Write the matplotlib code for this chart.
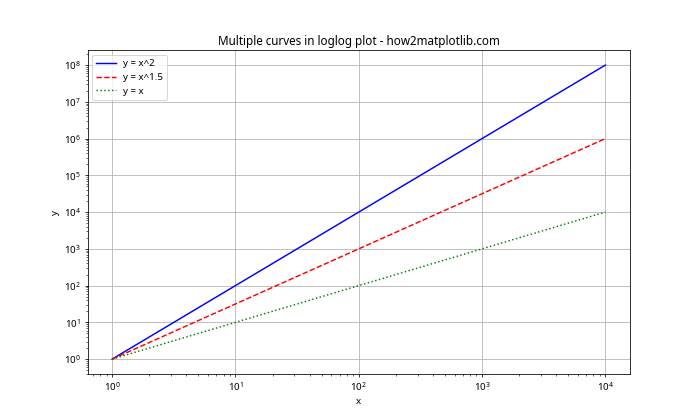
import numpy as np
import matplotlib
matplotlib.use("Agg")
import matplotlib.pyplot as plt

plt.rcParams['font.family'] = ['Noto Sans', 'DejaVu Sans']
plt.rcParams['mathtext.fontset'] = 'custom'
plt.rcParams['mathtext.rm'] = 'Noto Sans'
plt.rcParams['mathtext.it'] = 'Noto Sans'

x_start, x_end = 0, 4
exponents = [2, 1.5, 1]
labels = ['y = x^2', 'y = x^1.5', 'y = x']
colors = ['b', 'r', 'g']
styles = ['-', '--', ':']

x = np.logspace(x_start, x_end, 100)

fig = plt.figure(figsize=(10, 6), dpi=70)
for e, lab, c, s in zip(exponents, labels, colors, styles):
    plt.loglog(x, x ** e, color=c, linestyle=s, label=lab)
plt.title('Multiple curves in loglog plot - how2matplotlib.com')
plt.xlabel('x')
plt.ylabel('y')
plt.legend()
plt.grid(True)
plt.savefig('out.png', dpi=70)
